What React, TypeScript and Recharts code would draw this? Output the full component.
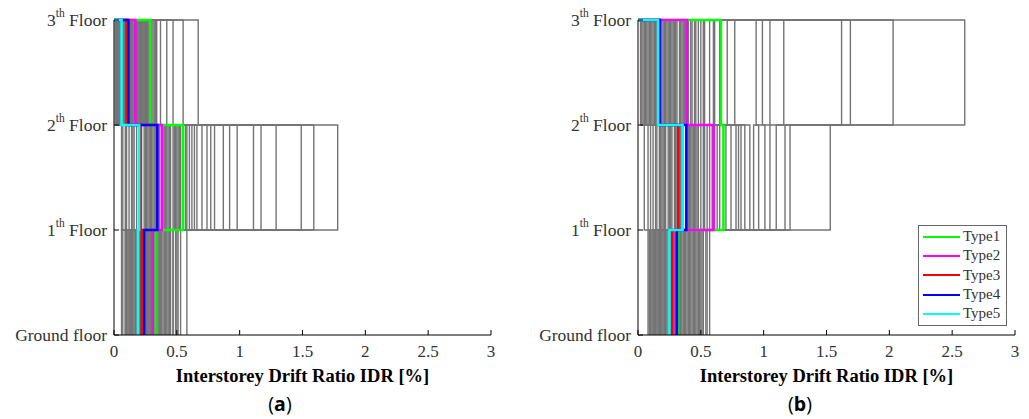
import React from 'react';
import { LineChart, Line, XAxis, YAxis, Legend } from 'recharts';

// storey levels and axis ticks
const floorTicks = [0, 1, 2, 3];
const idrTicks = [0, 0.5, 1, 1.5, 2, 2.5, 3];

// (a) grey records: IDR [%] of storey 1, 2, 3
const greyA1 = [0.06, 0.09, 0.11, 0.13, 0.16, 0.17, 0.19, 0.21, 0.23, 0.24, 0.26, 0.28, 0.29, 0.31, 0.33, 0.34, 0.36, 0.38, 0.41, 0.42, 0.44, 0.47, 0.39, 0.50, 0.45, 0.53, 0.35, 0.58, 0.10, 0.14, 0.18, 0.22, 0.27, 0.32, 0.25, 0.43, 0.49, 0.20, 0.15, 0.30,
  0.07, 0.12, 0.15, 0.18, 0.21, 0.24, 0.27, 0.30, 0.33, 0.36, 0.40, 0.44, 0.47, 0.51, 0.12, 0.22, 0.29, 0.37, 0.09, 0.26];
const greyA2 = [0.09, 0.12, 0.15, 0.18, 0.22, 0.24, 0.28, 0.31, 0.33, 0.36, 0.40, 0.43, 0.45, 0.48, 0.51, 0.55, 0.60, 0.66, 0.74, 0.80, 0.87, 0.98, 1.11, 1.17, 1.29, 1.49, 1.59, 1.78, 0.07, 0.20, 0.26, 0.38, 0.41, 0.53, 0.47, 0.58, 0.70, 0.35, 0.29, 0.62,
  0.10, 0.16, 0.21, 0.25, 0.30, 0.34, 0.39, 0.44, 0.50, 0.52, 0.57, 0.64, 0.77, 0.92, 0.14, 0.27, 0.42, 0.49, 0.06, 0.32];
const greyA3 = [0.02, 0.04, 0.03, 0.07, 0.05, 0.09, 0.12, 0.08, 0.14, 0.10, 0.16, 0.19, 0.13, 0.21, 0.18, 0.24, 0.22, 0.27, 0.25, 0.30, 0.34, 0.29, 0.37, 0.31, 0.47, 0.55, 0.28, 0.67, 0.01, 0.11, 0.06, 0.20, 0.23, 0.26, 0.15, 0.32, 0.20, 0.17, 0.04, 0.12,
  0.03, 0.06, 0.08, 0.10, 0.13, 0.15, 0.17, 0.19, 0.22, 0.24, 0.27, 0.26, 0.33, 0.42, 0.05, 0.11, 0.14, 0.23, 0.02, 0.09];

// (b) grey records
const greyB1 = [0.08, 0.10, 0.12, 0.13, 0.15, 0.16, 0.18, 0.19, 0.21, 0.22, 0.24, 0.25, 0.27, 0.28, 0.30, 0.32, 0.33, 0.35, 0.36, 0.38, 0.40, 0.41, 0.43, 0.44, 0.46, 0.48, 0.50, 0.52, 0.54, 0.55, 0.42, 0.57, 0.47, 0.11, 0.20, 0.26, 0.29, 0.34, 0.14, 0.23,
  0.09, 0.12, 0.14, 0.17, 0.19, 0.22, 0.25, 0.27, 0.30, 0.31, 0.34, 0.37, 0.39, 0.45, 0.49, 0.16, 0.21, 0.28, 0.33, 0.51];
const greyB2 = [0.05, 0.08, 0.12, 0.15, 0.18, 0.21, 0.24, 0.27, 0.30, 0.33, 0.36, 0.40, 0.43, 0.46, 0.50, 0.53, 0.57, 0.61, 0.65, 0.70, 0.74, 0.78, 0.82, 0.85, 0.89, 0.96, 1.01, 1.05, 1.10, 1.17, 1.21, 1.53, 0.92, 0.20, 0.38, 0.34, 0.48, 0.55, 0.26, 0.44,
  0.10, 0.14, 0.17, 0.22, 0.25, 0.29, 0.32, 0.35, 0.39, 0.42, 0.45, 0.52, 0.59, 0.63, 0.68, 0.19, 0.31, 0.41, 0.47, 0.80];
const greyB3 = [0.02, 0.04, 0.06, 0.08, 0.11, 0.13, 0.15, 0.18, 0.20, 0.23, 0.26, 0.29, 0.31, 0.34, 0.37, 0.40, 0.43, 0.46, 0.50, 0.53, 0.57, 0.61, 0.65, 0.71, 0.77, 0.94, 0.99, 1.05, 1.16, 1.62, 1.69, 2.03, 2.60, 0.09, 0.24, 0.17, 0.36, 0.48, 0.21, 0.39,
  0.03, 0.05, 0.10, 0.12, 0.14, 0.16, 0.19, 0.22, 0.25, 0.27, 0.30, 0.33, 0.38, 0.42, 0.45, 0.07, 0.28, 0.35, 0.52, 0.60];

// median profiles per building type
const typeNames = ['Type1', 'Type2', 'Type3', 'Type4', 'Type5'];
const typeColors = ['#00ff00', '#ff00ff', '#ff0000', '#0000ff', '#00ffff'];
const typeA1 = [0.33, 0.31, 0.22, 0.24, 0.19];
const typeA2 = [0.55, 0.38, 0.21, 0.345, 0.2];
const typeA3 = [0.29, 0.17, 0.1, 0.115, 0.06];
const typeB1 = [0.32, 0.3, 0.27, 0.31, 0.25];
const typeB2 = [0.68, 0.6, 0.32, 0.385, 0.355];
const typeB3 = [0.66, 0.39, 0.17, 0.175, 0.16];

const FONT = '"Liberation Serif", "DejaVu Serif", serif';

// stair profile: storey drift held between floor levels, back to 0 at roof
const profile = (d1: number, d2: number, d3: number) => [
  { x: d1, y: 0 },
  { x: d1, y: 1 },
  { x: d2, y: 1 },
  { x: d2, y: 2 },
  { x: d3, y: 2 },
  { x: d3, y: 3 },
  { x: 0, y: 3 },
];

const FloorTick = (props: any) => {
  const { x, y, payload } = props;
  const v = payload.value;
  const common = { x, y, textAnchor: 'end' as const, dominantBaseline: 'central' as const, fontSize: 17.5, fill: '#333', fontFamily: FONT };
  if (v === 0) return <text {...common}>Ground floor</text>;
  return (
    <text {...common}>
      <tspan>{v}</tspan>
      <tspan dy={-7} fontSize={11.5}>th</tspan>
      <tspan dy={7}>{'\u00a0Floor'}</tspan>
    </text>
  );
};

const TypeLegend = (props: any) => {
  const items = (props.payload || []).filter((p: any) => typeNames.includes(p.value));
  return (
    <div style={{ border: '1px solid #666', background: '#fff', width: 87, height: 98, paddingTop: 1, boxSizing: 'content-box', fontFamily: FONT }}>
      {items.map((p: any) => (
        <div key={p.value} style={{ display: 'flex', alignItems: 'center', height: 19.3 }}>
          <span style={{ width: 37, height: 0, borderTop: `2.5px solid ${p.color}`, marginLeft: 4 }} />
          <span style={{ marginLeft: 3, fontSize: 15, color: '#333', lineHeight: '15px' }}>{p.value}</span>
        </div>
      ))}
    </div>
  );
};

interface PanelProps {
  g1: number[];
  g2: number[];
  g3: number[];
  t1: number[];
  t2: number[];
  t3: number[];
  width: number;
  left: number;
  right: number;
  legend?: boolean;
}

const Panel: React.FC<PanelProps> = ({ g1, g2, g3, t1, t2, t3, width, left, right, legend }) => (
  <LineChart width={width} height={395} margin={{ top: 20, right, bottom: 8, left }}>
    <XAxis
      type="number"
      dataKey="x"
      domain={[0, 3]}
      ticks={idrTicks}
      interval={0}
      height={52}
      tickSize={-5}
      tickMargin={15}
      stroke="#000"
      tick={{ fontSize: 17, fill: '#333', fontFamily: FONT }}
      label={{ value: 'Interstorey Drift Ratio IDR [%]', position: 'insideBottom', offset: 5, fontSize: 18.5, fontWeight: 'bold', fill: '#000', fontFamily: FONT }}
    />
    <XAxis xAxisId="top" orientation="top" type="number" dataKey="x" domain={[0, 3]} ticks={idrTicks} interval={0} height={0} tick={false} tickSize={-5} stroke="#000" />
    <YAxis type="number" domain={[0, 3]} ticks={floorTicks} interval={0} width={100} tickSize={-5} tickMargin={12} stroke="#000" tick={<FloorTick />} />
    <YAxis yAxisId="right" orientation="right" type="number" domain={[0, 3]} ticks={floorTicks} interval={0} width={0} tick={false} tickSize={-5} stroke="#000" />
    {g1.map((d, i) => (
      <Line
        key={`g${i}`}
        data={profile(d, g2[i], g3[i])}
        dataKey="y"
        stroke="#747474"
        strokeWidth={1.4}
        dot={false}
        activeDot={false}
        legendType="none"
        isAnimationActive={false}
      />
    ))}
    {typeNames.map((name, i) => (
      <Line
        key={name}
        name={name}
        data={profile(t1[i], t2[i], t3[i])}
        dataKey="y"
        stroke={typeColors[i]}
        strokeWidth={2.5}
        dot={false}
        activeDot={false}
        isAnimationActive={false}
      />
    ))}
    {legend && (
      <Legend
        layout="vertical"
        align="center"
        verticalAlign="middle"
        content={<TypeLegend />}
        wrapperStyle={{ left: 398, top: 225, right: 'auto', bottom: 'auto', width: 'auto' }}
      />
    )}
  </LineChart>
);

const captionStyle: React.CSSProperties = {
  position: 'absolute',
  width: 80,
  top: 392,
  height: 24,
  textAlign: 'center',
  fontFamily: '"Open Sans", sans-serif',
  fontSize: 19.5,
  lineHeight: '24px',
};

const App: React.FC = () => (
  <div style={{ position: 'absolute', left: 0, top: 0, width: 1029, height: 419, background: '#fff', fontFamily: FONT, overflow: 'hidden' }}>
    <div style={{ position: 'absolute', left: 0, top: 0 }}>
      <Panel g1={greyA1} g2={greyA2} g3={greyA3} t1={typeA1} t2={typeA2} t3={typeA3} width={520} left={14} right={29} />
    </div>
    <div style={{ position: 'absolute', left: 520, top: 0 }}>
      <Panel g1={greyB1} g2={greyB2} g3={greyB3} t1={typeB1} t2={typeB2} t3={typeB3} width={509} left={18} right={14} legend />
    </div>
    <div style={{ ...captionStyle, left: 240 }}>
      (<b>a</b>)
    </div>
    <div style={{ ...captionStyle, left: 760 }}>
      (<b>b</b>)
    </div>
  </div>
);

export default App;
